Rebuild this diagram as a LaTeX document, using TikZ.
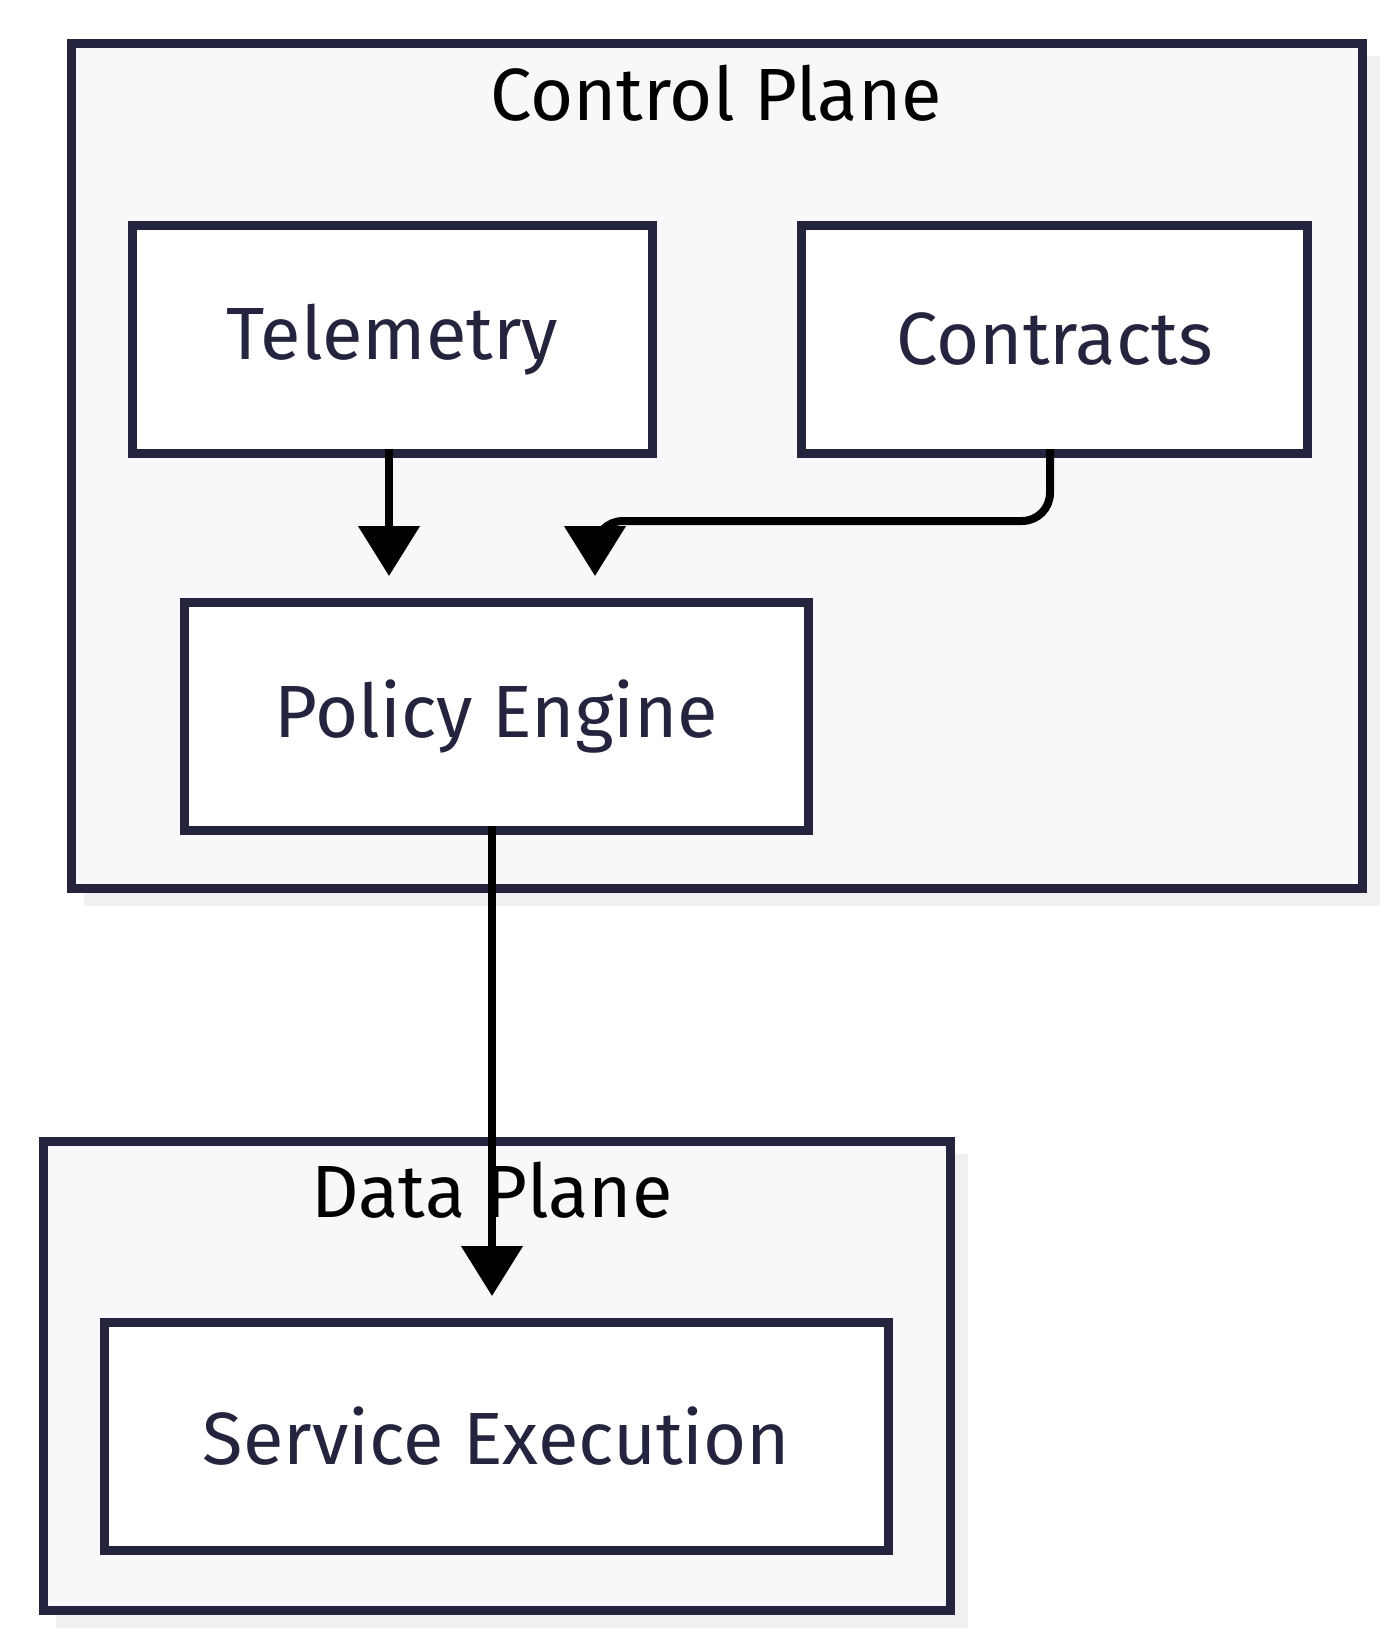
\documentclass[tikz,border=0pt]{standalone}
\usepackage{fontspec}
\setmainfont{Fira Sans}
\usetikzlibrary{arrows.meta}
\definecolor{ink}{HTML}{24243E}
\definecolor{planebg}{HTML}{F8F8FA}
\definecolor{shade}{HTML}{E6E6E9}
\tikzset{
  plane/.style={draw=ink, line width=4.5pt, fill=planebg, anchor=north west, inner sep=0pt},
  box/.style={draw=ink, line width=4.5pt, fill=white, anchor=north west, inner sep=0pt,
    text=ink, font=\fontsize{37}{44}\selectfont},
  flow/.style={line width=4pt, -{Triangle[length=25pt,width=30pt]}, rounded corners=14pt}
}
\begin{document}
\begin{tikzpicture}[x=0.5pt, y=-0.5pt]
    \useasboundingbox (0,0) rectangle (1400,1644);
    % shadows
    \fill [shade!60] (84,56) rectangle (1380,906);
    \fill [shade!60] (56,1154) rectangle (968,1628);
    \fill [shade] (145,238) rectangle (670,471);
    \fill [shade] (814,238) rectangle (1325,471);
    \fill [shade] (197,615) rectangle (827,848);
    \fill [shade] (117,1335) rectangle (907,1568);
    % planes
    \node (ctrl) at (67,39) [plane, minimum width=645.5pt, minimum height=422.5pt] {};
    \node (data) at (39,1137) [plane, minimum width=453.5pt, minimum height=234.5pt] {};
    \node (ctrltitle) at (716,93) [text=black, font=\fontsize{37}{44}\selectfont] {Control Plane};
    \node (datatitle) at (492,1190) [text=black, font=\fontsize{37}{44}\selectfont] {Data Plane};
    % nodes
    \node (tele) at (128,221) [box, minimum width=260pt, minimum height=114pt] {Telemetry};
    \node (contr) at (797,221) [box, minimum width=253pt, minimum height=114pt] {Contracts};
    \node (policy) at (180,598) [box, minimum width=312pt, minimum height=114pt] {Policy Engine};
    \node (service) at (100,1318) [box, minimum width=392pt, minimum height=114pt] {Service Execution};
    % connectors
    \coordinate (pin) at (595,576);
    \draw [flow] (389,449) -- (389,576);
    \draw [flow] (1050,449) -- (1050,521) -- (595,521) -- (pin);
    \draw [flow] (492,826) -- (492,1296);
\end{tikzpicture}
\end{document}
